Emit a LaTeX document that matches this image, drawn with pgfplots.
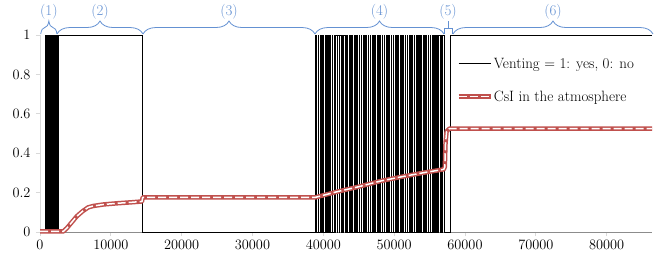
\documentclass[border=0pt]{standalone}
\usepackage{pgfplots}
\pgfplotsset{compat=1.18}
\usetikzlibrary{decorations.pathreplacing}
\definecolor{csired}{RGB}{192,80,77}
\definecolor{bracebl}{RGB}{100,145,210}
\definecolor{ygray}{RGB}{217,217,217}
\definecolor{xgray}{RGB}{140,140,140}
\begin{document}
\begin{tikzpicture}
\begin{axis}[
  at={(0,0)}, anchor=south west,
  scale only axis, width=612bp, height=197bp,
  xmin=0, xmax=86400, ymin=0, ymax=1,
  enlargelimits=false, clip=false,
  axis x line=bottom, axis y line=left,
  axis line style={-},
  x axis line style={xgray, line width=0.8bp},
  y axis line style={ygray, line width=0.8bp},
  xtick={0,10000,...,80000},
  ytick={0,0.2,0.4,0.6,0.8,1},
  scaled x ticks=false,
  x tick label style={/pgf/number format/set thousands separator={}, /pgf/number format/fixed},
  tick align=outside, major tick length=4bp,
  tick style={ygray, line width=0.8bp},
  tick label style={font=\fontsize{15}{18}\selectfont, text=black},
  xticklabel style={yshift=-1bp},
  yticklabel style={xshift=-2bp},
  legend image code/.code={\draw[#1] (0bp,0bp) -- (32bp,0bp);},
  legend style={draw=none, fill=none, at={(0.675,0.905)}, anchor=north west,
    font=\fontsize{15}{18}\selectfont, row sep=17bp,
    nodes={inner xsep=1bp}},
  legend cell align=left,
]
% Venting = 1: yes, 0: no
\addplot[const plot, black, line width=0.5bp] coordinates {
(0,0)(700,1)(755,0)(800,1)(855,0)(900,1)(955,0)(1000,1)(1055,0)(1100,1)(1155,0)
(1200,1)(1255,0)(1300,1)(1355,0)(1400,1)(1455,0)(1500,1)(1555,0)(1600,1)(1655,0)
(1700,1)(1755,0)(1800,1)(1855,0)(1900,1)(1955,0)(2000,1)(2055,0)(2100,1)(2155,0)
(2200,1)(2255,0)(2330,1)(2380,0)(2480,1)(2530,0)(2620,1)(14500,0)
(38900,1)(39050,0)(39250,1)(39340,0)(39550,1)(39650,0)(39850,1)(39940,0)
(40200,1)(40350,0)(40550,1)(40640,0)(40900,1)(41000,0)(41200,1)(41300,0)
(41500,1)(41600,0)(41750,1)(41950,0)(42000,1)(42250,0)(42300,1)(42550,0)
(42600,1)(42800,0)(42850,1)(43050,0)(43300,1)(43390,0)(43650,1)(43750,0)
(44000,1)(44090,0)(44350,1)(44450,0)(44650,1)(44740,0)(45000,1)(45100,0)
(45300,1)(45390,0)(45650,1)(45750,0)(45950,1)(46040,0)(46300,1)(46400,0)
(46600,1)(46690,0)(46950,1)(47050,0)(47250,1)(47340,0)(47600,1)(47700,0)
(47900,1)(47990,0)(48250,1)(48350,0)(48550,1)(48640,0)(48900,1)(49000,0)
(49200,1)(49290,0)(49550,1)(49650,0)(49850,1)(49940,0)(50200,1)(50300,0)
(50500,1)(50590,0)(50850,1)(50950,0)(51150,1)(51240,0)(51500,1)(51600,0)
(51800,1)(51890,0)(52150,1)(52250,0)(52450,1)(52540,0)(52800,1)(52900,0)
(53100,1)(53190,0)(53450,1)(53550,0)(53750,1)(53840,0)(54100,1)(54200,0)
(54400,1)(54490,0)(54750,1)(54850,0)(55050,1)(55140,0)(55400,1)(55500,0)
(55700,1)(55800,0)(56000,1)(56150,0)(56250,1)(56450,0)(56500,1)(56700,0)
(56750,1)(57100,0)(57900,1)(86400,1)
};
\addlegendentry{Venting = 1: yes, 0: no}
% CsI in the atmosphere
\addplot[csired, line width=4.5bp, line join=round,
  postaction={draw=white, line width=1.5bp, dash pattern=on 8bp off 3bp}] coordinates {
(0,0.003)(3300,0.003)(3800,0.02)(4500,0.05)(5200,0.08)(6000,0.105)(6800,0.125)
(7500,0.132)(9000,0.14)(11000,0.146)(13000,0.151)(14400,0.155)(14500,0.176)
(38900,0.176)(42000,0.205)(45000,0.23)(48000,0.258)(51000,0.28)(54000,0.30)
(57000,0.318)(57150,0.33)(57250,0.45)(57400,0.51)(57800,0.525)(86400,0.525)
};
\addlegendentry{CsI in the atmosphere}
% braces and labels
\begin{scope}[bracebl, line width=0.8bp]
\draw[decorate, decoration={brace, amplitude=13bp}] (axis cs:100,1.005) -- (axis cs:2400,1.005);
\draw[decorate, decoration={brace, amplitude=13bp}] (axis cs:2400,1.005) -- (axis cs:14541,1.005);
\draw[decorate, decoration={brace, amplitude=13bp}] (axis cs:14541,1.005) -- (axis cs:38824,1.005);
\draw[decorate, decoration={brace, amplitude=13bp}] (axis cs:38824,1.005) -- (axis cs:57035,1.005);
\draw (axis cs:57035,1.005) -- (axis cs:57035,1.035) -- (axis cs:58165,1.035) -- (axis cs:58165,1.005);
\draw (axis cs:57600,1.035) -- (axis cs:57600,1.07);
\draw[decorate, decoration={brace, amplitude=13bp}] (axis cs:58306,1.005) -- (axis cs:86541,1.005);
\end{scope}
\begin{scope}[every node/.style={text=bracebl, font=\fontsize{15}{18}\selectfont, inner sep=0pt}]
\node at (axis cs:1250,1.12) {(1)};
\node at (axis cs:8470,1.12) {(2)};
\node at (axis cs:26680,1.12) {(3)};
\node at (axis cs:47930,1.12) {(4)};
\node at (axis cs:57600,1.12) {(5)};
\node at (axis cs:72420,1.12) {(6)};
\end{scope}
\end{axis}
\pgfresetboundingbox
\useasboundingbox (-40bp,-31bp) rectangle (625bp,232bp);
\end{tikzpicture}
\end{document}
